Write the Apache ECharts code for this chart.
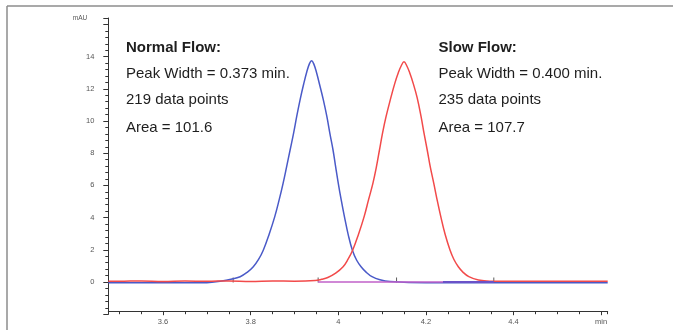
<!DOCTYPE html>
<html>
<head>
<meta charset="utf-8">
<script src="https://cdn.jsdelivr.net/npm/echarts@6/dist/echarts.min.js"></script>
<style>
  html, body { margin: 0; padding: 0; background: #fff; }
  #chart { width: 673px; height: 330px; }
</style>
</head>
<body>
<div id="chart"></div>
<script>
// 色谱图：正常流速 vs 慢流速
const normalFlow = [
  [3.475, -0.05], [3.6, -0.05], [3.7, -0.04], [3.734, 0.06], [3.755, 0.17],
  [3.776, 0.33], [3.792, 0.6], [3.806, 0.95], [3.818, 1.4], [3.829, 1.99],
  [3.842, 2.95], [3.855, 4.06], [3.865, 5.1], [3.874, 6.13], [3.882, 7.15],
  [3.89, 8.2], [3.898, 9.25], [3.905, 10.27], [3.913, 11.35], [3.921, 12.3],
  [3.928, 13.05], [3.934, 13.55], [3.939, 13.75], [3.944, 13.55], [3.95, 13.05],
  [3.957, 12.3], [3.966, 11.3], [3.974, 10.27], [3.981, 9.2], [3.988, 8.2],
  [3.994, 7.15], [4.0, 6.13], [4.007, 5.05], [4.014, 4.06], [4.023, 2.9],
  [4.032, 1.99], [4.042, 1.35], [4.052, 0.95], [4.064, 0.6], [4.077, 0.33],
  [4.095, 0.14], [4.118, 0.03], [4.2, -0.05], [4.615, -0.05]
]

const slowFlow = [
  [3.475, 0.05], [3.5, 0.04], [3.55, 0.07], [3.6, 0.03], [3.65, 0.06],
  [3.7, 0.04], [3.75, 0.07], [3.8, 0.03], [3.85, 0.06], [3.9, 0.05],
  [3.947, 0.09], [3.962, 0.17], [3.976, 0.28], [3.994, 0.55], [4.011, 0.95],
  [4.022, 1.4], [4.033, 1.99], [4.046, 2.95], [4.059, 4.06], [4.069, 5.1],
  [4.079, 6.13], [4.087, 7.15], [4.094, 8.2], [4.101, 9.25], [4.109, 10.27],
  [4.12, 11.45], [4.129, 12.34], [4.137, 13.0], [4.144, 13.45], [4.15, 13.68],
  [4.156, 13.45], [4.163, 13.0], [4.171, 12.34], [4.18, 11.45], [4.189, 10.27],
  [4.196, 9.2], [4.203, 8.2], [4.21, 7.15], [4.218, 6.13], [4.226, 5.05],
  [4.234, 4.06], [4.244, 2.95], [4.255, 1.99], [4.264, 1.4], [4.274, 0.95],
  [4.285, 0.6], [4.298, 0.33], [4.32, 0.12], [4.346, 0.05], [4.4, 0.05],
  [4.615, 0.05]
]

// 积分基线和积分起止标记
const baselineA = [[3.954, 0], [4.239, 0]]
const baselineB = [[4.239, 0], [4.355, 0]]
const integrationMarks = [[3.76, 0], [3.954, 0], [4.133, 0], [4.355, 0]]

const normalText = ['Normal Flow:', 'Peak Width = 0.373 min.', '219 data points', 'Area = 101.6']
const slowText = ['Slow Flow:', 'Peak Width = 0.400 min.', '235 data points', 'Area = 107.7']

const FONT = '"Liberation Sans", Arial, Helvetica, sans-serif'
const chart = echarts.init(document.getElementById('chart'))

function textBlock(lines, left) {
  const tops = [49, 75, 101, 129.5]
  return lines.map((s, i) => ({
    type: 'text',
    left: left,
    top: tops[i] - 9,
    style: {
      text: s,
      fill: '#1e1e1e',
      font: (i === 0 ? 'bold ' : '') + '15px ' + FONT
    }
  }))
}

const labelStyle = { color: '#555', fontSize: 7.5, fontFamily: FONT }

const option = {
  animation: false,
  backgroundColor: '#fff',
  grid: { left: 108.3, right: 65.3, top: 18, bottom: 15.8, containLabel: false },
  xAxis: [
    {
      type: 'value',
      position: 'bottom',
      min: 3.475,
      max: 4.615,
      splitNumber: 5,
      offset: -3,
      splitLine: { show: false },
      axisLine: { onZero: false, lineStyle: { color: '#333', width: 1 } },
      axisTick: { length: 4, lineStyle: { color: '#333' } },
      axisLabel: {
        ...labelStyle,
        margin: 7,
        showMinLabel: false,
        showMaxLabel: false,
        formatter: (v) => (Math.abs(v - 4.6) < 1e-6 ? 'min' : String(+v.toFixed(1)))
      }
    },
    {
      type: 'value',
      position: 'bottom',
      min: 3.475,
      max: 4.615,
      splitNumber: 23,
      offset: -3,
      splitLine: { show: false },
      axisLine: { show: false, onZero: false },
      axisTick: { length: 3, lineStyle: { color: '#333' } },
      axisLabel: { show: false }
    }
  ],
  yAxis: [
    {
      type: 'value',
      position: 'left',
      min: -2,
      max: 16.4,
      interval: 2,
      name: 'mAU',
      nameLocation: 'end',
      nameGap: 0,
      nameTextStyle: {
        color: '#555', fontSize: 6.5, fontFamily: FONT,
        align: 'right', verticalAlign: 'middle', padding: [0, 21, 0, 0]
      },
      splitLine: { show: false },
      axisLine: { show: true, onZero: false, lineStyle: { color: '#333', width: 1 } },
      axisTick: { show: true, length: 5, lineStyle: { color: '#333' } },
      axisLabel: {
        ...labelStyle,
        margin: 14,
        formatter: (v) => (v < 0 || v > 15 ? '' : String(v))
      }
    },
    {
      type: 'value',
      position: 'left',
      min: -2,
      max: 16.4,
      interval: 0.4,
      splitLine: { show: false },
      axisLine: { show: false, onZero: false },
      axisTick: { show: true, length: 3, lineStyle: { color: '#333' } },
      axisLabel: { show: false }
    }
  ],
  series: [
    {
      name: 'Normal Flow',
      type: 'line',
      data: normalFlow,
      smooth: 0.4,
      showSymbol: false,
      lineStyle: { color: '#4a5ac8', width: 1.5 }
    },
    {
      name: 'Slow Flow',
      type: 'line',
      data: slowFlow,
      smooth: 0.4,
      showSymbol: false,
      lineStyle: { color: '#f24a4a', width: 1.5 }
    },
    {
      type: 'line',
      data: baselineA,
      showSymbol: false,
      lineStyle: { color: '#c060c8', width: 1.5 }
    },
    {
      type: 'line',
      data: baselineB,
      showSymbol: false,
      lineStyle: { color: '#6a52c8', width: 2.2 }
    },
    {
      type: 'scatter',
      data: integrationMarks,
      symbol: 'rect',
      symbolSize: [1, 5],
      symbolOffset: [0, -2],
      itemStyle: { color: '#333' }
    }
  ],
  graphic: [
    { type: 'line', shape: { x1: 7, y1: 6, x2: 673, y2: 6 }, style: { stroke: '#8c8c8c', lineWidth: 1.5 } },
    { type: 'line', shape: { x1: 7, y1: 6, x2: 7, y2: 330 }, style: { stroke: '#8c8c8c', lineWidth: 1.5 } },
    ...textBlock(normalText, 126),
    ...textBlock(slowText, 438.5)
  ]
}

chart.setOption(option)
</script>
</body>
</html>
